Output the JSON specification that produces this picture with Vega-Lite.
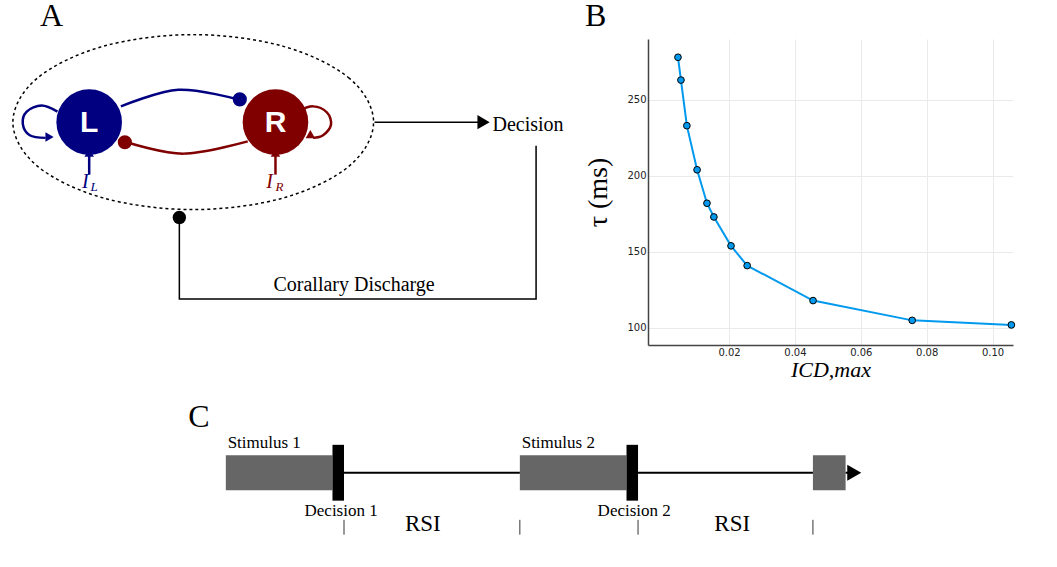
{
  "$schema": "https://vega.github.io/schema/vega-lite/v6.json",
  "padding": 0,
  "spacing": 0,
  "config": {"view": {"stroke": null}, "font": "Liberation Serif"},
  "vconcat": [
    {
      "hconcat": [
        {
          "width": 545, "height": 350,
          "layer": [
            {
              "data": {"values": [
                {"o": 1, "x": 377, "y": 145}, {"o": 2, "x": 352.6, "y": 95}, {"o": 3, "x": 286, "y": 58.4}, {"o": 4, "x": 195, "y": 45},
                {"o": 5, "x": 104, "y": 58.4}, {"o": 6, "x": 37.4, "y": 95}, {"o": 7, "x": 13, "y": 145}, {"o": 8, "x": 37.4, "y": 195},
                {"o": 9, "x": 104, "y": 231.6}, {"o": 10, "x": 195, "y": 245}, {"o": 11, "x": 286, "y": 231.6}, {"o": 12, "x": 352.6, "y": 195}
              ]},
              "mark": {"type": "line", "interpolate": "cardinal-closed", "color": "black", "strokeWidth": 1.5, "strokeDash": [3, 3]},
              "encoding": {
                "x": {"field": "x", "type": "quantitative", "axis": null, "scale": {"domain": [0, 545]}},
                "y": {"field": "y", "type": "quantitative", "axis": null, "scale": {"domain": [60, 410], "reverse": true}},
                "order": {"field": "o"}
              }
            },
            {
              "data": {"values": [
                {"id": "top", "o": 1, "x": 122, "y": 127}, {"id": "top", "o": 2, "x": 180, "y": 108}, {"id": "top", "o": 3, "x": 240, "y": 119},
                {"id": "loopL", "o": 1, "x": 58, "y": 133}, {"id": "loopL", "o": 2, "x": 42, "y": 126}, {"id": "loopL", "o": 3, "x": 27, "y": 133}, {"id": "loopL", "o": 4, "x": 23, "y": 147}, {"id": "loopL", "o": 5, "x": 30, "y": 160}, {"id": "loopL", "o": 6, "x": 46, "y": 163},
                {"id": "inL", "o": 1, "x": 90, "y": 205}, {"id": "inL", "o": 2, "x": 90, "y": 182}
              ]},
              "mark": {"type": "line", "interpolate": "cardinal", "color": "#000080", "strokeWidth": 2.5},
              "encoding": {"x": {"field": "x", "type": "quantitative"}, "y": {"field": "y", "type": "quantitative"}, "detail": {"field": "id"}, "order": {"field": "o"}}
            },
            {
              "data": {"values": [
                {"id": "bot", "o": 1, "x": 250, "y": 167}, {"id": "bot", "o": 2, "x": 185, "y": 181}, {"id": "bot", "o": 3, "x": 128, "y": 168},
                {"id": "loopR", "o": 1, "x": 300, "y": 133}, {"id": "loopR", "o": 2, "x": 316, "y": 127}, {"id": "loopR", "o": 3, "x": 330, "y": 134}, {"id": "loopR", "o": 4, "x": 334, "y": 148}, {"id": "loopR", "o": 5, "x": 326, "y": 160}, {"id": "loopR", "o": 6, "x": 316, "y": 163},
                {"id": "inR", "o": 1, "x": 278, "y": 205}, {"id": "inR", "o": 2, "x": 278, "y": 182}
              ]},
              "mark": {"type": "line", "interpolate": "cardinal", "color": "#800000", "strokeWidth": 2.5},
              "encoding": {"x": {"field": "x", "type": "quantitative"}, "y": {"field": "y", "type": "quantitative"}, "detail": {"field": "id"}, "order": {"field": "o"}}
            },
            {
              "data": {"values": [
                {"id": "dec", "o": 1, "x": 378, "y": 145}, {"id": "dec", "o": 2, "x": 484, "y": 145},
                {"id": "cd", "o": 1, "x": 541, "y": 172}, {"id": "cd", "o": 2, "x": 541, "y": 347}, {"id": "cd", "o": 3, "x": 181, "y": 347}, {"id": "cd", "o": 4, "x": 181, "y": 256}
              ]},
              "mark": {"type": "line", "color": "black", "strokeWidth": 1.5},
              "encoding": {"x": {"field": "x", "type": "quantitative"}, "y": {"field": "y", "type": "quantitative"}, "detail": {"field": "id"}, "order": {"field": "o"}}
            },
            {
              "data": {"values": [{"x": 90, "y": 145, "c": "L"}, {"x": 278, "y": 145, "c": "R"}]},
              "mark": {"type": "circle", "size": 4300, "opacity": 1},
              "encoding": {"x": {"field": "x", "type": "quantitative"}, "y": {"field": "y", "type": "quantitative"},
                "color": {"field": "c", "type": "nominal", "legend": null, "scale": {"domain": ["L", "R"], "range": ["#000080", "#800000"]}}}
            },
            {
              "data": {"values": [{"x": 242, "y": 119, "c": "L"}, {"x": 126, "y": 168, "c": "R"}]},
              "mark": {"type": "circle", "size": 200, "opacity": 1},
              "encoding": {"x": {"field": "x", "type": "quantitative"}, "y": {"field": "y", "type": "quantitative"},
                "color": {"field": "c", "type": "nominal", "legend": null}}
            },
            {
              "data": {"values": [{"x": 181, "y": 254}]},
              "mark": {"type": "circle", "size": 180, "opacity": 1, "color": "black"},
              "encoding": {"x": {"field": "x", "type": "quantitative"}, "y": {"field": "y", "type": "quantitative"}}
            },
            {
              "data": {"values": [{"x": 50, "y": 162, "c": "L", "a": 90}, {"x": 90, "y": 180, "c": "L", "a": 0}, {"x": 312, "y": 161, "c": "R", "a": 240}, {"x": 278, "y": 180, "c": "R", "a": 0}]},
              "mark": {"type": "point", "shape": "triangle-up", "filled": true, "opacity": 1, "size": 90},
              "encoding": {"x": {"field": "x", "type": "quantitative"}, "y": {"field": "y", "type": "quantitative"},
                "angle": {"field": "a", "type": "quantitative", "scale": null},
                "color": {"field": "c", "type": "nominal", "legend": null}}
            },
            {
              "data": {"values": [{"x": 488, "y": 145}]},
              "mark": {"type": "point", "shape": "triangle-right", "filled": true, "opacity": 1, "size": 200, "color": "black"},
              "encoding": {"x": {"field": "x", "type": "quantitative"}, "y": {"field": "y", "type": "quantitative"}}
            },
            {
              "data": {"values": [{"x": 90, "y": 146, "t": "L"}, {"x": 278, "y": 146, "t": "R"}]},
              "mark": {"type": "text", "font": "Liberation Sans", "fontSize": 30, "fontWeight": "bold", "color": "white", "baseline": "middle"},
              "encoding": {"x": {"field": "x", "type": "quantitative"}, "y": {"field": "y", "type": "quantitative"}, "text": {"field": "t"}}
            },
            {
              "data": {"values": [{"x": 86, "y": 213, "t": "I", "c": "L"}, {"x": 272, "y": 213, "t": "I", "c": "R"}]},
              "mark": {"type": "text", "fontSize": 20, "fontStyle": "italic", "baseline": "middle"},
              "encoding": {"x": {"field": "x", "type": "quantitative"}, "y": {"field": "y", "type": "quantitative"}, "text": {"field": "t"},
                "color": {"field": "c", "type": "nominal", "legend": null}}
            },
            {
              "data": {"values": [{"x": 95, "y": 219, "t": "L", "c": "L"}, {"x": 282, "y": 219, "t": "R", "c": "R"}]},
              "mark": {"type": "text", "fontSize": 13, "fontStyle": "italic", "baseline": "middle"},
              "encoding": {"x": {"field": "x", "type": "quantitative"}, "y": {"field": "y", "type": "quantitative"}, "text": {"field": "t"},
                "color": {"field": "c", "type": "nominal", "legend": null}}
            },
            {
              "data": {"values": [{"x": 497, "y": 148, "t": "Decision"}, {"x": 276, "y": 331, "t": "Corallary Discharge"}]},
              "mark": {"type": "text", "fontSize": 20, "align": "left", "baseline": "middle", "color": "black"},
              "encoding": {"x": {"field": "x", "type": "quantitative"}, "y": {"field": "y", "type": "quantitative"}, "text": {"field": "t"}}
            },
            {
              "data": {"values": [{"x": 52, "y": 24, "t": "A"}]},
              "mark": {"type": "text", "fontSize": 32, "baseline": "middle", "color": "black"},
              "encoding": {"x": {"field": "x", "type": "quantitative"}, "y": {"field": "y", "type": "quantitative"}, "text": {"field": "t"}}
            }
          ]
        },
        {
          "width": 365, "height": 306,
          "title": {"text": "B", "fontSize": 32, "font": "Liberation Serif", "fontWeight": "normal", "anchor": "start", "offset": 6},
          "data": {"values": [
            {"icd": 0.0045, "tau": 278}, {"icd": 0.0054, "tau": 263}, {"icd": 0.0072, "tau": 233}, {"icd": 0.0103, "tau": 204},
            {"icd": 0.0133, "tau": 182}, {"icd": 0.0154, "tau": 173}, {"icd": 0.0206, "tau": 154}, {"icd": 0.0255, "tau": 141},
            {"icd": 0.0455, "tau": 118}, {"icd": 0.0756, "tau": 105}, {"icd": 0.1057, "tau": 102}
          ]},
          "encoding": {
            "x": {"field": "icd", "type": "quantitative", "scale": {"domain": [-0.0046, 0.1062], "nice": false, "zero": false},
              "axis": {"values": [0.02, 0.04, 0.06, 0.08, 0.1], "format": ".2f", "title": "ICD,max", "titleFont": "Liberation Serif", "titleFontStyle": "italic", "titleFontWeight": "normal", "titleFontSize": 22, "labelFont": "DejaVu Sans", "labelFontSize": 10, "labelColor": "#222", "domainColor": "#444", "domainWidth": 1.5, "tickSize": 0, "gridColor": "#eaeaea", "titlePadding": 2}},
            "y": {"field": "tau", "type": "quantitative", "scale": {"domain": [88.8, 290], "nice": false, "zero": false},
              "axis": {"values": [100, 150, 200, 250], "title": "τ (ms)", "titleFont": "Liberation Serif", "titleFontWeight": "normal", "titleFontSize": 28, "labelFont": "DejaVu Sans", "labelFontSize": 10, "labelColor": "#222", "domainColor": "#444", "domainWidth": 1.5, "tickSize": 0, "gridColor": "#eaeaea", "titlePadding": 14}}
          },
          "layer": [
            {"mark": {"type": "line", "color": "#0099ee", "strokeWidth": 2}},
            {"mark": {"type": "point", "filled": true, "color": "#0099ee", "stroke": "black", "strokeWidth": 1, "size": 45, "opacity": 1}}
          ]
        }
      ],
      "spacing": 20
    },
    {
      "width": 1057, "height": 157,
      "layer": [
        {
          "data": {"values": [{"x": 235, "x2": 346, "y": 476, "y2": 516}, {"x": 541, "x2": 652, "y": 476, "y2": 516}, {"x": 846, "x2": 880, "y": 476, "y2": 516}]},
          "mark": {"type": "rect", "color": "#666666"},
          "encoding": {
            "x": {"field": "x", "type": "quantitative", "axis": null, "scale": {"domain": [0, 1057]}}, "x2": {"field": "x2"},
            "y": {"field": "y", "type": "quantitative", "axis": null, "scale": {"domain": [410, 567], "reverse": true}}, "y2": {"field": "y2"}
          }
        },
        {
          "data": {"values": [{"x": 346, "x2": 358, "y": 464, "y2": 528}, {"x": 652, "x2": 664, "y": 464, "y2": 528}]},
          "mark": {"type": "rect", "color": "black"},
          "encoding": {"x": {"field": "x", "type": "quantitative"}, "x2": {"field": "x2"}, "y": {"field": "y", "type": "quantitative"}, "y2": {"field": "y2"}}
        },
        {
          "data": {"values": [{"x": 358, "x2": 541, "y": 496}, {"x": 664, "x2": 846, "y": 496}, {"x": 880, "x2": 884, "y": 496}]},
          "mark": {"type": "rule", "color": "black", "strokeWidth": 2},
          "encoding": {"x": {"field": "x", "type": "quantitative"}, "x2": {"field": "x2"}, "y": {"field": "y", "type": "quantitative"}}
        },
        {
          "data": {"values": [{"x": 358, "y": 550, "y2": 567}, {"x": 541, "y": 550, "y2": 567}, {"x": 664, "y": 550, "y2": 567}, {"x": 846, "y": 550, "y2": 567}]},
          "mark": {"type": "rule", "color": "black", "strokeWidth": 0.8},
          "encoding": {"x": {"field": "x", "type": "quantitative"}, "y": {"field": "y", "type": "quantitative"}, "y2": {"field": "y2"}}
        },
        {
          "data": {"values": [{"x": 889, "y": 496}]},
          "mark": {"type": "point", "shape": "triangle-right", "filled": true, "opacity": 1, "size": 260, "color": "black"},
          "encoding": {"x": {"field": "x", "type": "quantitative"}, "y": {"field": "y", "type": "quantitative"}}
        },
        {
          "data": {"values": [{"x": 275, "y": 462, "t": "Stimulus 1"}, {"x": 581, "y": 462, "t": "Stimulus 2"}, {"x": 355, "y": 540, "t": "Decision 1"}, {"x": 660, "y": 540, "t": "Decision 2"}]},
          "mark": {"type": "text", "fontSize": 17, "baseline": "middle", "color": "black"},
          "encoding": {"x": {"field": "x", "type": "quantitative"}, "y": {"field": "y", "type": "quantitative"}, "text": {"field": "t"}}
        },
        {
          "data": {"values": [{"x": 440, "y": 555, "t": "RSI"}, {"x": 762, "y": 555, "t": "RSI"}]},
          "mark": {"type": "text", "fontSize": 23, "baseline": "middle", "color": "black"},
          "encoding": {"x": {"field": "x", "type": "quantitative"}, "y": {"field": "y", "type": "quantitative"}, "text": {"field": "t"}}
        },
        {
          "data": {"values": [{"x": 207, "y": 432, "t": "C"}]},
          "mark": {"type": "text", "fontSize": 32, "baseline": "middle", "color": "black"},
          "encoding": {"x": {"field": "x", "type": "quantitative"}, "y": {"field": "y", "type": "quantitative"}, "text": {"field": "t"}}
        }
      ]
    }
  ]
}
